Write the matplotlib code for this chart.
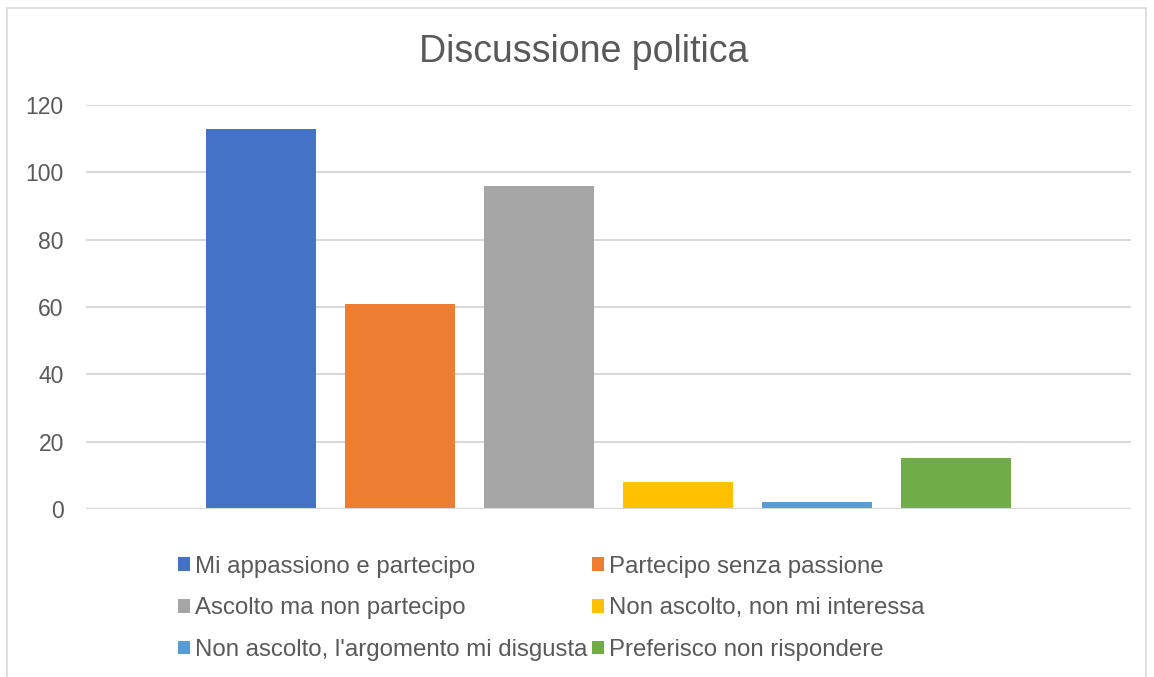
import matplotlib.pyplot as plt
from matplotlib.patches import Patch, Rectangle

plt.rcParams['font.family'] = ['Liberation Sans', 'DejaVu Sans']

# Data
categories = [
    'Mi appassiono e partecipo',
    'Partecipo senza passione',
    'Ascolto ma non partecipo',
    'Non ascolto, non mi interessa',
    "Non ascolto, l'argomento mi disgusta",
    'Preferisco non rispondere',
]
values = [113, 61, 96, 8, 2, 15]
colors = ['#4472C4', '#ED7D31', '#A5A5A5', '#FFC000', '#5B9BD5', '#70AD47']
yticks = [0, 20, 40, 60, 80, 100, 120]

text_color = '#595959'
grid_color = '#D9D9D9'

fig = plt.figure(figsize=(11.54, 6.77), dpi=100)
ax = fig.add_axes([0.0745, 0.2482, 0.9055, 0.5967])

x = list(range(len(values)))
ax.bar(x, values, width=0.79, color=colors, zorder=3)

ax.set_xlim(-1.259, len(values) - 1 + 1.259)
ax.set_ylim(0, 120)
ax.set_yticks(yticks)
ax.set_xticks([])
ax.yaxis.grid(True, color=grid_color, linewidth=1.5, zorder=0)
ax.tick_params(axis='y', length=0, pad=16, labelsize=16.5, labelcolor=text_color)
for s in ax.spines.values():
    s.set_visible(False)
ax.axhline(0, color=grid_color, linewidth=1.5, zorder=4)

fig.text(0.506, 0.923, 'Discussione politica', ha='center', va='center',
         fontsize=27, color=text_color)

# Legend: row-major order like the original, so reorder for column filling
order = [0, 2, 4, 1, 3, 5]
handles = [Patch(facecolor=colors[i], edgecolor='none') for i in order]
labels = [categories[i] for i in order]
leg = fig.legend(handles, labels, ncol=2, loc='upper left',
                 bbox_to_anchor=(0.144, 0.197), frameon=False, fontsize=17.3,
                 handlelength=0.5, handleheight=0.5, handletextpad=0.2,
                 columnspacing=0.18, labelspacing=0.82, borderpad=0)
for t in leg.get_texts():
    t.set_color(text_color)

# Outer chart border
fig.patches.append(Rectangle((7 / 1154, -0.01), 1139 / 1154, 1 - 8 / 677 + 0.01,
                             transform=fig.transFigure, fill=False,
                             edgecolor='#D9D9D9', linewidth=1.2))

fig.savefig('out.png', dpi=100)
